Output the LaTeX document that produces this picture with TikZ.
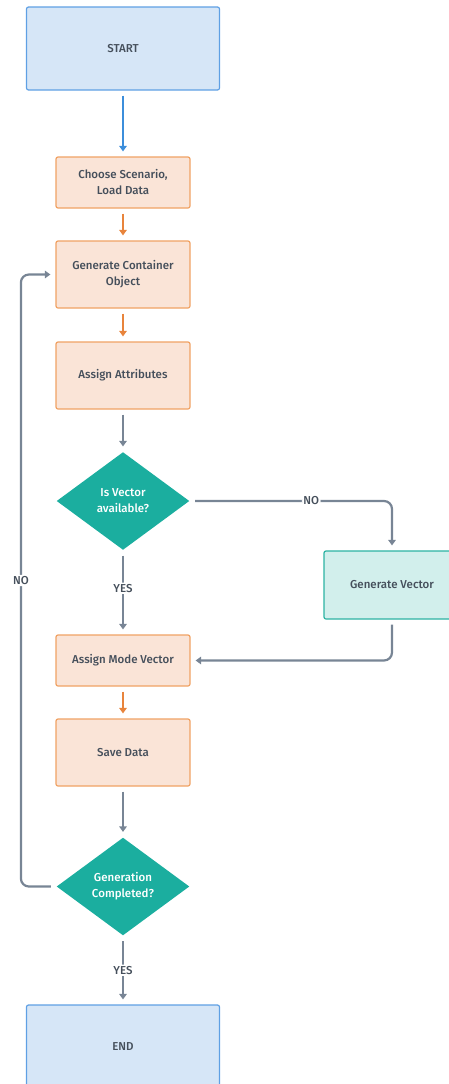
\documentclass[tikz,border=0pt]{standalone}
\usepackage{fontspec}
\setmainfont{Fira Sans}[UprightFont=* Medium]
\usetikzlibrary{shapes.geometric,arrows.meta}
\definecolor{termfill}{HTML}{D6E6F7}
\definecolor{termline}{HTML}{5FA0E4}
\definecolor{stepfill}{HTML}{FAE4D7}
\definecolor{stepline}{HTML}{F0A264}
\definecolor{decfill}{HTML}{1BAE9F}
\definecolor{auxfill}{HTML}{D2EFEC}
\definecolor{auxline}{HTML}{2DB3A3}
\definecolor{txt}{HTML}{454F5B}
\definecolor{flowgray}{HTML}{788595}
\definecolor{flowblue}{HTML}{3C8EDB}
\definecolor{floworange}{HTML}{E8843C}
\tikzset{
  base/.style={font=\fontsize{11.5}{16}\selectfont, text=txt, align=center, inner sep=0pt, line width=1.2pt},
  term/.style={base, draw=termline, fill=termfill, rounded corners=2pt, minimum width=193pt, minimum height=83pt},
  stepbox/.style={base, draw=stepline, fill=stepfill, rounded corners=2pt, minimum width=134pt},
  auxbox/.style={base, draw=auxline, fill=auxfill, rounded corners=2pt, minimum width=136pt, minimum height=68pt},
  decision/.style={base, diamond, fill=decfill, text=white, minimum width=133pt, minimum height=98pt},
  flow/.style={line width=2.2pt, draw=flowgray, rounded corners=8pt, shorten <=5pt, shorten >=5pt,
    -{Triangle[width=7.5pt,length=5.5pt]}},
  lbl/.style={font=\fontsize{11.5}{13}\selectfont, text=txt, fill=white, inner sep=1.5pt}
}
\begin{document}
\begin{tikzpicture}[x=1pt,y=1pt]
	\useasboundingbox (0,0) rectangle (449,-1084);
	\begin{scope}
	\clip (0,0) rectangle (449,-1084);
	\node[term] (start) at (123,-48.5) {START};
	\node[stepbox, minimum height=51pt] (load) at (123,-182.5) {Choose Scenario,\\Load Data};
	\node[stepbox, minimum height=67pt] (container) at (123,-274.5) {Generate Container\\Object};
	\node[stepbox, minimum height=67pt] (attrib) at (123,-375.5) {Assign Attributes};
	\node[decision] (isvec) at (123,-501) {Is Vector\\available?};
	\node[auxbox] (genvec) at (392,-585) {Generate Vector};
	\node[stepbox, minimum height=51pt] (mode) at (123,-660.5) {Assign Mode Vector};
	\node[stepbox, minimum height=67pt] (save) at (123,-752.5) {Save Data};
	\node[decision] (done) at (123,-886.5) {Generation\\Completed?};
	\node[term] (end) at (123,-1046.5) {END};
	\end{scope}
	\draw[flow, draw=flowblue] (start) -- (load);
	\draw[flow, draw=floworange] (load) -- (container);
	\draw[flow, draw=floworange] (container) -- (attrib);
	\draw[flow] (attrib) -- (isvec);
	\draw[flow] (isvec.east) -| node[lbl, pos=0.3] {NO} (genvec.north);
	\draw[flow] (isvec.south) -- node[lbl, pos=0.45] {YES} (mode.north);
	\draw[flow] (genvec.south) |- (mode.east);
	\draw[flow, draw=floworange] (mode) -- (save);
	\draw[flow] (save) -- (done);
	\draw[flow] (done.west) -- ++(-35,0) |- node[lbl, pos=0.25] {NO} (container.west);
	\draw[flow] (done.south) -- node[lbl] {YES} (end.north);
\end{tikzpicture}
\end{document}
